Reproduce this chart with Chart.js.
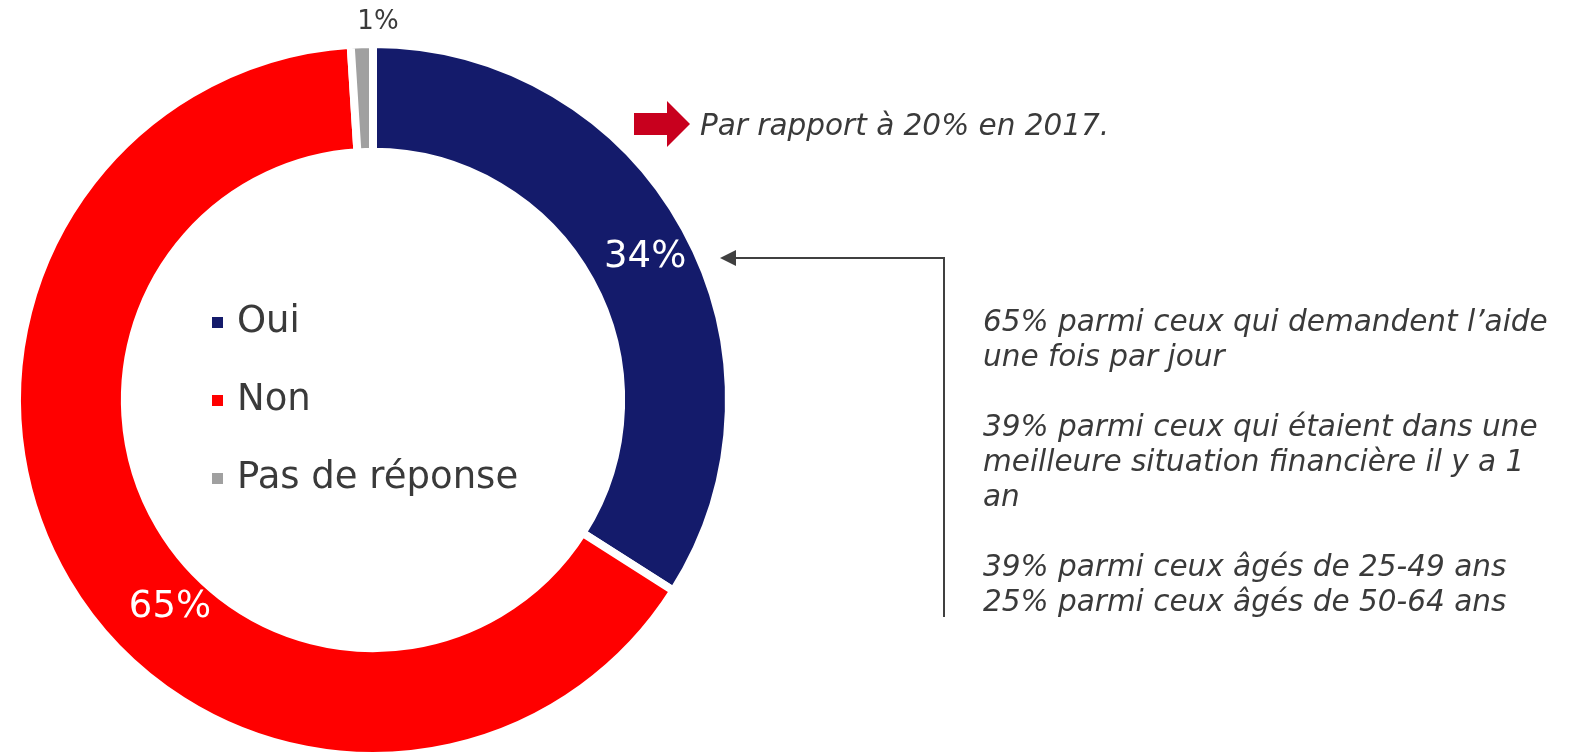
<!DOCTYPE html>
<html>
<head>
<meta charset="utf-8">
<script src="https://cdn.jsdelivr.net/npm/chart.js@4/dist/chart.umd.min.js"></script>
<style>
html, body { margin: 0; padding: 0; background: #fff; overflow: hidden; }
#wrap { width: 1574px; height: 756px; overflow: hidden; }
</style>
</head>
<body>
<div id="wrap"><canvas id="chart" width="1574" height="800"></canvas></div>
<script>
const categories = ["Oui", "Non", "Pas de réponse"];
const values = [34, 65, 1];
const colors = ["#141b6b", "#ff0000", "#a0a0a0"];
const note_top = "Par rapport à 20% en 2017.";
const note_lines = [
    "65% parmi ceux qui demandent l’aide",
    "une fois par jour",
    "",
    "39% parmi ceux qui étaient dans une",
    "meilleure situation financière il y a 1",
    "an",
    "",
    "39% parmi ceux âgés de 25-49 ans",
    "25% parmi ceux âgés de 50-64 ans",
];

const font_name = "Verdana, 'DejaVu Sans', sans-serif";
const text_color = "#3a3a3a";

// etiquettes de valeur sur les arcs
const value_labels = {
    id: "value_labels",
    afterDatasetsDraw(chart) {
        const ctx = chart.ctx;
        const arcs = chart.getDatasetMeta(0).data;
        // position le long de l'arc (0..1) et decalage radial
        const along = [0.51, 0.436, 1.21];
        const shift = [5, -12, -2];
        arcs.forEach((arc, i) => {
            const p = arc.getProps(["x", "y", "startAngle", "endAngle", "innerRadius", "outerRadius"]);
            const a = p.startAngle + (p.endAngle - p.startAngle) * along[i];
            const inside = values[i] >= 5;
            const r = (inside ? (p.innerRadius + p.outerRadius) / 2 : p.outerRadius + 24) + shift[i];
            ctx.save();
            ctx.font = (inside ? "37px " : "26px ") + font_name;
            ctx.fillStyle = inside ? "#ffffff" : text_color;
            ctx.textAlign = "center";
            ctx.textBaseline = "middle";
            ctx.fillText(values[i] + "%", p.x + Math.cos(a) * r, p.y + Math.sin(a) * r);
            ctx.restore();
        });
    },
};

// legende au centre + annotations
const extras = {
    id: "extras",
    afterDraw(chart) {
        const ctx = chart.ctx;
        ctx.save();
        // legende
        categories.forEach((c, i) => {
            const y = 322 + i * 78;
            ctx.fillStyle = colors[i];
            ctx.fillRect(212, y - 5, 11, 11);
            ctx.fillStyle = text_color;
            ctx.font = "37px " + font_name;
            ctx.textBaseline = "middle";
            ctx.textAlign = "left";
            ctx.fillText(c, 237, y);
        });

        // fleche rouge
        ctx.fillStyle = "#c8001e";
        ctx.beginPath();
        ctx.moveTo(634, 113);
        ctx.lineTo(667, 113);
        ctx.lineTo(667, 101);
        ctx.lineTo(690, 124);
        ctx.lineTo(667, 147);
        ctx.lineTo(667, 135);
        ctx.lineTo(634, 135);
        ctx.closePath();
        ctx.fill();

        ctx.fillStyle = text_color;
        ctx.font = "italic 29.5px " + font_name;
        ctx.textBaseline = "alphabetic";
        ctx.fillText(note_top, 700, 135);

        // connecteur
        ctx.strokeStyle = "#404040";
        ctx.lineWidth = 2;
        ctx.beginPath();
        ctx.moveTo(944, 617);
        ctx.lineTo(944, 258);
        ctx.lineTo(734, 258);
        ctx.stroke();
        ctx.fillStyle = "#404040";
        ctx.beginPath();
        ctx.moveTo(720, 258);
        ctx.lineTo(736, 250);
        ctx.lineTo(736, 266);
        ctx.closePath();
        ctx.fill();

        ctx.fillStyle = text_color;
        ctx.font = "italic 29.5px " + font_name;
        note_lines.forEach((t, i) => {
            ctx.fillText(t, 983, 331 + i * 35);
        });
        ctx.restore();
    },
};

new Chart(document.getElementById("chart"), {
    type: "doughnut",
    data: {
        labels: categories,
        datasets: [
            {
                data: values,
                backgroundColor: colors,
                borderColor: "#ffffff",
                borderWidth: 8,
            },
        ],
    },
    options: {
        responsive: false,
        animation: false,
        devicePixelRatio: 1,
        cutout: "69.7%",
        layout: {
            padding: { left: 13, right: 1574 - 733, top: 40, bottom: 40 },
        },
        plugins: {
            legend: { display: false },
            tooltip: { enabled: false },
        },
        events: [],
    },
    plugins: [value_labels, extras],
});
</script>
</body>
</html>
